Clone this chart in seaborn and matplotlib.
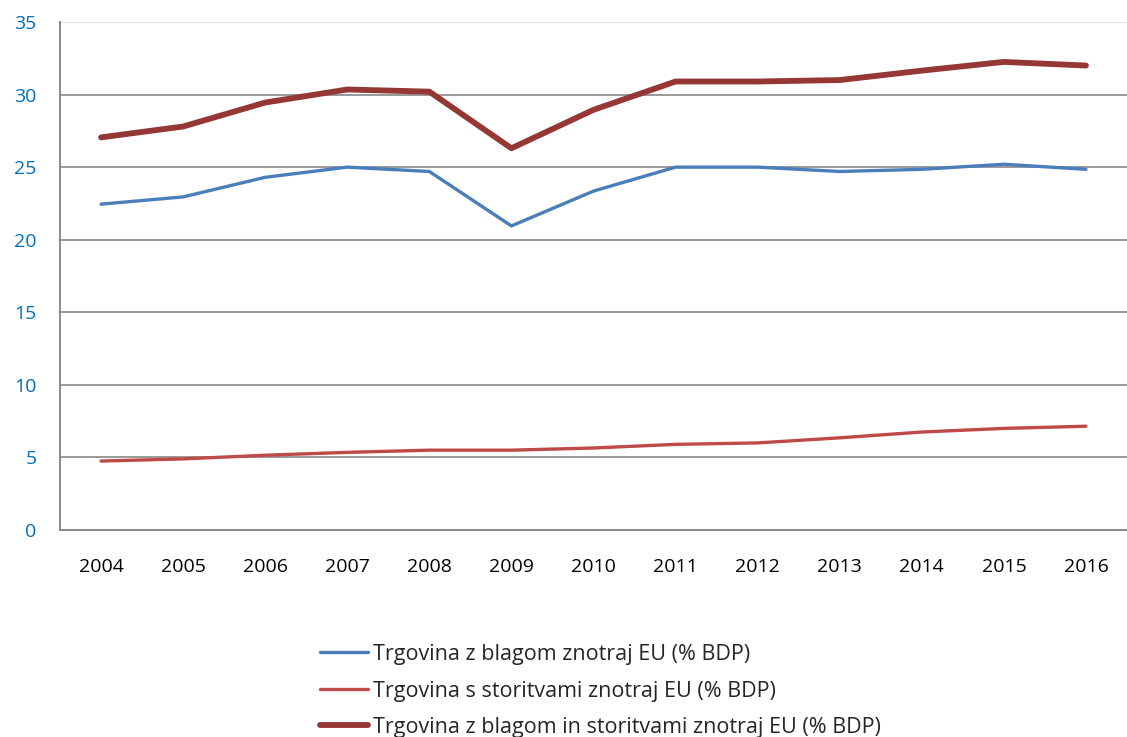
import matplotlib
matplotlib.use("Agg")
import matplotlib.pyplot as plt
import seaborn as sns
import pandas as pd
import numpy as np

years = ["2004", "2005", "2006", "2007", "2008", "2009", "2010",
         "2011", "2012", "2013", "2014", "2015", "2016"]
blago = [22.45, 22.95, 24.3, 25.0, 24.7, 20.95, 23.35, 25.0, 25.0, 24.7, 24.85, 25.2, 24.85]
storitve = [4.75, 4.9, 5.15, 5.35, 5.5, 5.5, 5.65, 5.9, 6.0, 6.35, 6.75, 7.0, 7.15]
skupaj = [27.05, 27.8, 29.45, 30.35, 30.2, 26.3, 28.95, 30.9, 30.9, 31.0, 31.65, 32.25, 32.0]

names = ["Trgovina z blagom znotraj EU (% BDP)",
         "Trgovina s storitvami znotraj EU (% BDP)",
         "Trgovina z blagom in storitvami znotraj EU (% BDP)"]
colors = ["#4a7ebb", "#be4b48", "#953735"]
widths = [2.4, 2.4, 4.2]

sns.set_style("white")
plt.rcParams['font.family'] = ['Open Sans', 'DejaVu Sans']

rows = []
for name, vals in zip(names, [blago, storitve, skupaj]):
    for i, v in enumerate(vals):
        rows.append({"x": i, "val": v, "series": name})
df = pd.DataFrame(rows)

fig = plt.figure(figsize=(11.27, 7.37), dpi=100)
ax = fig.add_axes([60/1127, 1 - 530/737, (1127-60)/1127, (530-22)/737])

for name, c, w in zip(names, colors, widths):
    sub = df[df["series"] == name]
    sns.lineplot(data=sub, x="x", y="val", ax=ax, color=c, linewidth=w,
                 label=name, solid_capstyle="round")

ax.set_xlim(-0.5, len(years) - 0.5)
ax.set_ylim(0, 35)
ax.set_yticks(np.arange(0, 36, 5))
ax.set_yticklabels([str(v) for v in range(0, 36, 5)], color="#0070c0", fontsize=14)
ax.set_xticks(range(len(years)))
ax.set_xticklabels(years, fontsize=14, color="black")
ax.set_xticks(np.arange(-0.5, len(years), 1), minor=True)
ax.tick_params(axis="x", which="major", length=0, pad=20)
ax.tick_params(axis="x", which="minor", length=5, color="#888888", width=1.2, direction="out")
ax.tick_params(axis="y", length=7, color="#888888", width=1.2, direction="out", pad=10)
ax.set_xlabel("")
ax.set_ylabel("")

for y in range(5, 31, 5):
    ax.axhline(y, color="#888888", linewidth=1.2, zorder=0)
ax.axhline(35, color="#e6e6e6", linewidth=1.0, zorder=0)

for s in ["top", "right"]:
    ax.spines[s].set_visible(False)
ax.spines["left"].set_color("#888888")
ax.spines["left"].set_linewidth(1.4)
ax.spines["bottom"].set_color("#888888")
ax.spines["bottom"].set_linewidth(1.4)

ax.legend_.remove()
handles, labels = ax.get_legend_handles_labels()
fig.legend(handles, labels, loc="upper left", bbox_to_anchor=(320/1127, 1 - 644/737),
           frameon=False, fontsize=15.5, handlelength=2.25, handletextpad=0.2,
           labelspacing=0.72, borderaxespad=0, borderpad=0)

fig.savefig("out.png", dpi=100)
